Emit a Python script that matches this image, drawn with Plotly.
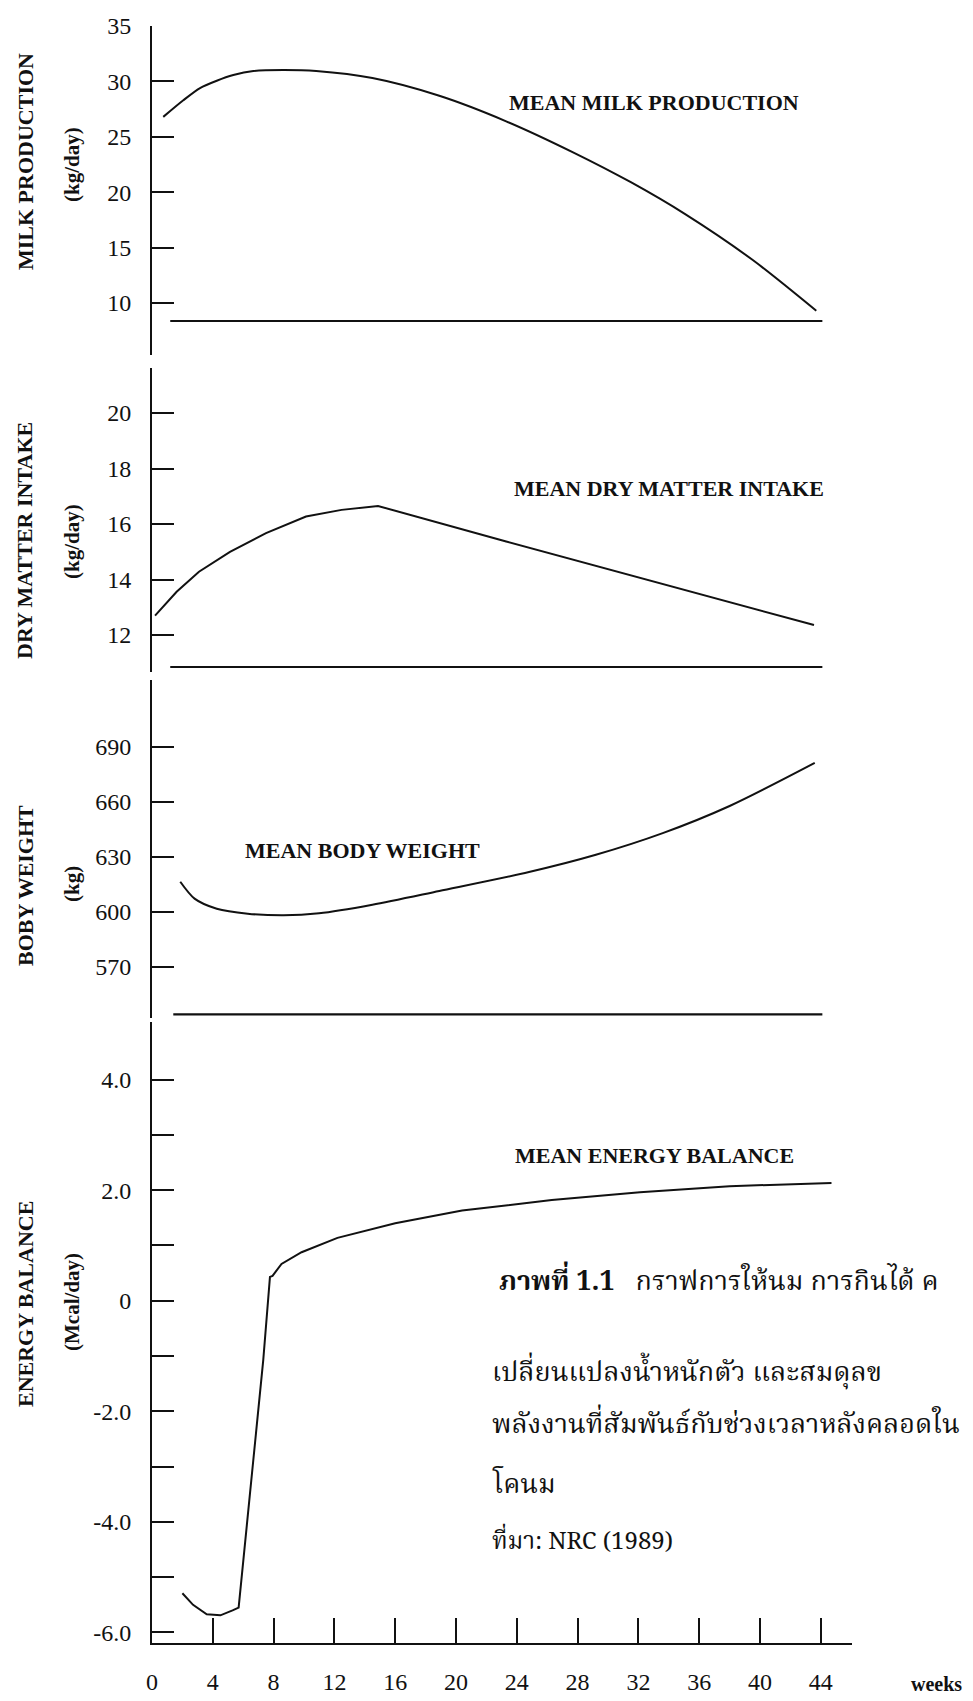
import plotly.graph_objects as go

W, H = 973, 1701

# ---------------- data ----------------
weeks_tick = [0, 4, 8, 12, 16, 20, 24, 28, 32, 36, 40, 44]

milk_w = [0.74, 2.06, 3.16, 4.26, 5.35, 6.67, 8.64, 10.8, 14.5, 18.9, 23.3, 27.7, 31.5, 35.1, 39.5, 43.7]
milk_v = [26.8, 28.3, 29.4, 30.06, 30.57, 30.93, 31.02, 30.93, 30.3, 28.7, 26.4, 23.6, 20.9, 18.0, 13.9, 9.3]

dmi_w = [0.2, 1.62, 3.09, 5.13, 7.5, 10.13, 12.47, 14.87, 23.3, 43.55]
dmi_v = [12.7, 13.56, 14.28, 15.0, 15.67, 16.27, 16.51, 16.65, 15.37, 12.36]

bw_w = [1.86, 2.8, 4.26, 6.3, 8.66, 10.99, 14.5, 18.9, 24.8, 29.2, 33.6, 38.0, 43.6]
bw_v = [616.5, 607.3, 601.8, 599.1, 598.2, 599.3, 604.0, 611.5, 621.8, 631.2, 643.0, 657.8, 681.3]

eb_w = [2.0, 2.7, 3.6, 4.5, 5.3, 5.7, 7.32, 7.76, 7.93, 8.52, 9.84, 12.2, 16.0, 20.4, 26.3, 32.1, 38.0, 44.7]
eb_v = [-5.29, -5.5, -5.67, -5.69, -5.6, -5.55, -1.07, 0.43, 0.45, 0.665, 0.876, 1.136, 1.40, 1.63, 1.82, 1.96, 2.07, 2.13]

# baselines of the upper panels (value, start week, end week)
milk_base = [8.38, 1.2, 44.1]
dmi_base = [10.85, 1.2, 44.1]
bw_base = [544.2, 1.4, 44.1]

milk_ticks = [10, 15, 20, 25, 30, 35]
dmi_ticks = [12, 14, 16, 18, 20]
bw_ticks = [570, 600, 630, 660, 690]
eb_ticks = [-6, -5, -4, -3, -2, -1, 0, 1, 2, 3, 4]
eb_ticklabels = ["-6.0", "", "-4.0", "", "-2.0", "", "0", "", "2.0", "", "4.0"]

# ---------------- layout helpers ----------------
def py(px):
    return 1 - px / H

def pxx(px):
    return px / W

SERIF = "Liberation Serif, Times New Roman, serif"
THAI = "Norasi, TH Sarabun New, Garuda, Noto Serif Thai, Noto Sans Thai, Loma, Liberation Serif, serif"
BLACK = "#111111"

XDOM = [pxx(152), pxx(852)]
XRANGE = [0, 46.05]

fig = go.Figure()

fig.add_trace(go.Scatter(x=milk_w, y=milk_v, mode="lines", line=dict(color=BLACK, width=2, shape="spline", smoothing=0.8),
                         xaxis="x", yaxis="y", showlegend=False, hoverinfo="skip"))
fig.add_trace(go.Scatter(x=dmi_w, y=dmi_v, mode="lines", line=dict(color=BLACK, width=2),
                         xaxis="x2", yaxis="y2", showlegend=False, hoverinfo="skip"))
fig.add_trace(go.Scatter(x=bw_w, y=bw_v, mode="lines", line=dict(color=BLACK, width=2, shape="spline", smoothing=0.8),
                         xaxis="x3", yaxis="y3", showlegend=False, hoverinfo="skip"))
fig.add_trace(go.Scatter(x=eb_w, y=eb_v, mode="lines", line=dict(color=BLACK, width=2),
                         xaxis="x4", yaxis="y4", showlegend=False, hoverinfo="skip"))

# baselines
for base, xa, ya in [(milk_base, "x", "y"), (dmi_base, "x2", "y2"), (bw_base, "x3", "y3")]:
    fig.add_trace(go.Scatter(x=[base[1], base[2]], y=[base[0], base[0]], mode="lines",
                             line=dict(color=BLACK, width=2.2), xaxis=xa, yaxis=ya,
                             showlegend=False, hoverinfo="skip", cliponaxis=False))

yax_common = dict(showline=True, linecolor=BLACK, linewidth=2, ticks="inside", ticklen=22, tickwidth=2,
                  tickcolor=BLACK, showgrid=False, zeroline=False, fixedrange=True, automargin=False,
                  tickfont=dict(family=SERIF, size=24, color=BLACK), ticklabelstandoff=14)
xhid = dict(domain=XDOM, range=XRANGE, visible=False, fixedrange=True)

fig.update_layout(
    width=W, height=H, margin=dict(l=0, r=0, t=0, b=0),
    paper_bgcolor="white", plot_bgcolor="rgba(0,0,0,0)",
    xaxis=dict(anchor="y", **xhid),
    xaxis2=dict(anchor="y2", **xhid),
    xaxis3=dict(anchor="y3", **xhid),
    xaxis4=dict(anchor="y4", domain=XDOM, range=XRANGE, showline=True, linecolor=BLACK, linewidth=2,
                ticks="inside", ticklen=25, tickwidth=2, tickcolor=BLACK, showgrid=False, zeroline=False,
                tickvals=weeks_tick, ticktext=[str(v) for v in weeks_tick], fixedrange=True, automargin=False,
                tickfont=dict(family=SERIF, size=24, color=BLACK), ticklabelstandoff=16),
    yaxis=dict(anchor="x", domain=[py(355), py(26)], range=[5.31, 35], tickvals=milk_ticks, **yax_common),
    yaxis2=dict(anchor="x2", domain=[py(672), py(368)], range=[10.67, 21.62], tickvals=dmi_ticks, **yax_common),
    yaxis3=dict(anchor="x3", domain=[py(1018), py(680)], range=[542.2, 726.5], tickvals=bw_ticks, **yax_common),
    yaxis4=dict(anchor="x4", domain=[py(1643), py(1022)], range=[-6.19, 5.04], tickvals=eb_ticks,
                ticktext=eb_ticklabels, **yax_common),
)

ann = []

def add_text(text, x, y, size, bold=True, angle=0, xanchor="center", family=SERIF):
    t = f"<b>{text}</b>" if bold else text
    ann.append(dict(text=t, x=pxx(x), y=py(y), xref="paper", yref="paper", showarrow=False,
                    xanchor=xanchor, yanchor="middle", textangle=angle,
                    font=dict(family=family, size=size, color=BLACK)))

# rotated axis titles
add_text("MILK PRODUCTION", 25, 162, 22, angle=-90)
add_text("(kg/day)", 72, 165, 21, angle=-90)
add_text("DRY MATTER INTAKE", 25, 541, 22, angle=-90)
add_text("(kg/day)", 72, 542, 21, angle=-90)
add_text("BOBY WEIGHT", 25, 886, 22, angle=-90)
add_text("(kg)", 72, 884, 21, angle=-90)
add_text("ENERGY BALANCE", 25, 1304, 22, angle=-90)
add_text("(Mcal/day)", 72, 1302, 21, angle=-90)

# in-plot labels
add_text("MEAN MILK PRODUCTION", 654, 102, 22)
add_text("MEAN DRY MATTER INTAKE", 669, 488, 22)
add_text("MEAN BODY WEIGHT", 362, 850, 22)
add_text("MEAN ENERGY BALANCE", 654, 1155, 22)
add_text("weeks", 936, 1684, 20)

# caption (Thai)
ann.append(dict(text="<b>ภาพที่ 1.1</b>   กราฟการให้นม การกินได้ ค", x=pxx(497), y=py(1282),
                xref="paper", yref="paper", showarrow=False, xanchor="left", yanchor="middle",
                font=dict(family=THAI, size=27, color=BLACK)))
caption_lines = ["เปลี่ยนแปลงน้ำหนักตัว และสมดุลข", "พลังงานที่สัมพันธ์กับช่วงเวลาหลังคลอดใน", "โคนม"]
for txt, yy in zip(caption_lines, [1373, 1425, 1485]):
    ann.append(dict(text=txt, x=pxx(490), y=py(yy), xref="paper", yref="paper", showarrow=False,
                    xanchor="left", yanchor="middle", font=dict(family=THAI, size=27, color=BLACK)))
ann.append(dict(text="ที่มา: NRC (1989)", x=pxx(490), y=py(1542), xref="paper", yref="paper",
                showarrow=False, xanchor="left", yanchor="middle", font=dict(family=THAI, size=24, color=BLACK)))

fig.update_layout(annotations=ann)
fig.write_html("out.html", config={"displayModeBar": False},
               post_script="document.body.style.margin='0';document.body.style.overflow='hidden';")
